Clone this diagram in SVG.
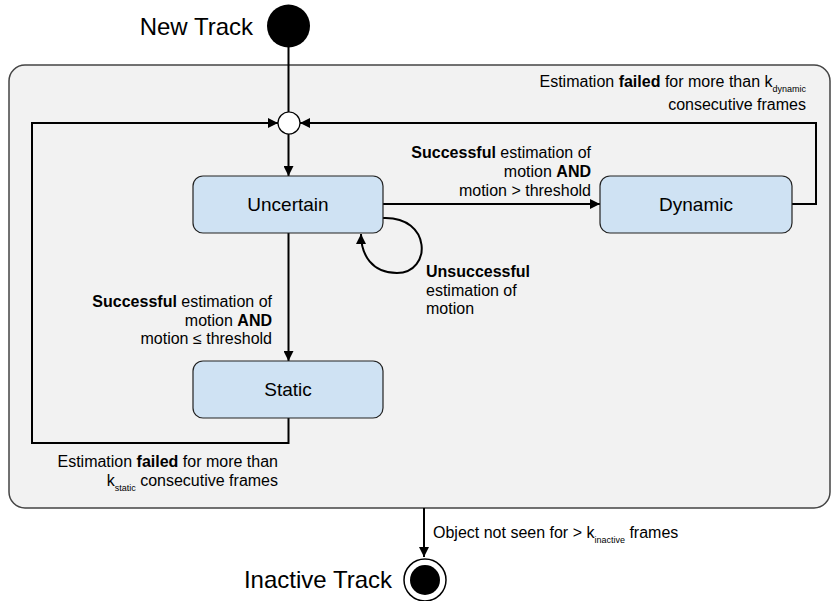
<svg xmlns="http://www.w3.org/2000/svg" width="832" height="601" viewBox="0 0 832 601">
<defs>
<style>
text{font-family:"Liberation Sans",Arial,sans-serif;fill:#000}
.lbl{font-size:16px}
.b{font-weight:bold}
.sub{font-size:9px}
.state{fill:#cfe2f3;stroke:#222;stroke-width:1.2}
.state-t{font-size:19px;text-anchor:middle}
.big{font-size:24px}
.ln{fill:none;stroke:#000;stroke-width:2}
</style>
<marker id="ah" viewBox="0 0 10 10" refX="10" refY="5" markerWidth="10" markerHeight="10" markerUnits="userSpaceOnUse" orient="auto">
<path d="M0,0 L10,5 L0,10 z" fill="#000"/>
</marker>
</defs>
<rect width="832" height="601" fill="#fff"/>
<g id="container">
<rect x="9" y="65" width="821" height="443" rx="16" fill="#f2f2f2" stroke="#444" stroke-width="1.5"/>
</g>
<g id="connectors">
<line class="ln" x1="288.5" y1="46" x2="288.5" y2="112"/>
<line class="ln" x1="288.5" y1="134" x2="288.5" y2="176" marker-end="url(#ah)"/>
<line class="ln" x1="383" y1="204" x2="600" y2="204" marker-end="url(#ah)"/>
<polyline class="ln" points="792,204 816,204 816,123 300,123" marker-end="url(#ah)"/>
<line class="ln" x1="288.5" y1="233" x2="288.5" y2="361" marker-end="url(#ah)"/>
<polyline class="ln" points="288.5,418 288.5,443 32,443 32,123 278,123" marker-end="url(#ah)"/>
<path class="ln" d="M383,218 C432,216 432,273 397,273 C372,273 361,255 361,234" marker-end="url(#ah)"/>
<line class="ln" x1="424" y1="508" x2="424" y2="557" marker-end="url(#ah)"/>
</g>
<g id="start">
<circle cx="288.5" cy="26" r="21.5" fill="#000"/>
<text class="big" x="253" y="35" text-anchor="end">New Track</text>
</g>
<g id="junction">
<circle cx="289" cy="123" r="11" fill="#fff" stroke="#000" stroke-width="1.2"/>
</g>
<g id="uncertain">
<rect class="state" x="193" y="176" width="190" height="57" rx="10"/>
<text class="state-t" x="288" y="211">Uncertain</text>
</g>
<g id="dynamic">
<rect class="state" x="600" y="176" width="192" height="57" rx="10"/>
<text class="state-t" x="696" y="211">Dynamic</text>
</g>
<g id="static">
<rect class="state" x="193" y="361" width="190" height="57" rx="10"/>
<text class="state-t" x="288" y="396">Static</text>
</g>
<g id="end">
<circle cx="425" cy="580" r="21" fill="#fff" stroke="#000" stroke-width="1.5"/>
<circle cx="425" cy="580" r="15" fill="#000"/>
<text class="big" x="392" y="588" text-anchor="end">Inactive Track</text>
</g>
<g id="labels">
<text class="lbl" x="806" y="87" text-anchor="end">Estimation <tspan class="b">failed</tspan> for more than k<tspan class="sub" dy="5">dynamic</tspan></text>
<text class="lbl" x="806" y="110" text-anchor="end">consecutive frames</text>
<text class="lbl" x="591" y="158" text-anchor="end"><tspan class="b">Successful</tspan> estimation of</text>
<text class="lbl" x="591" y="177" text-anchor="end">motion <tspan class="b">AND</tspan></text>
<text class="lbl" x="591" y="196" text-anchor="end">motion &gt; threshold</text>
<text class="lbl" x="426" y="277"><tspan class="b">Unsuccessful</tspan></text>
<text class="lbl" x="426" y="296">estimation of</text>
<text class="lbl" x="426" y="314">motion</text>
<text class="lbl" x="272" y="307" text-anchor="end"><tspan class="b">Successful</tspan> estimation of</text>
<text class="lbl" x="272" y="326" text-anchor="end">motion <tspan class="b">AND</tspan></text>
<text class="lbl" x="272" y="344" text-anchor="end">motion ≤ threshold</text>
<text class="lbl" x="278" y="467" text-anchor="end">Estimation <tspan class="b">failed</tspan> for more than</text>
<text class="lbl" x="278" y="486" text-anchor="end">k<tspan class="sub" dy="5">static</tspan><tspan dy="-5"> consecutive frames</tspan></text>
<text class="lbl" x="433" y="538">Object not seen for &gt; k<tspan class="sub" dy="5">inactive</tspan><tspan dy="-5"> frames</tspan></text>
</g>
</svg>
